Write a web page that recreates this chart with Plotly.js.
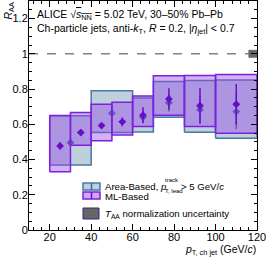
<!DOCTYPE html>
<html><head><meta charset="utf-8">
<script src="https://cdn.plot.ly/plotly-3.0.1.min.js"></script>
<style>html,body{margin:0;padding:0;background:#fff}#c{width:266px;height:259px}</style>
</head><body><div id="c"></div>
<script>
// Area-based (pT lead track > 5 GeV/c)
const areaLo   = [20, 40, 60, 70, 85, 100];
const areaHi   = [40, 60, 70, 85, 100, 120];
const areaX    = [30, 50, 65, 77.5, 92.5, 110];
const areaY    = [0.496, 0.663, 0.640, 0.723, 0.682, 0.672];
const areaStat = [0.02, 0.02, 0.035, 0.05, 0.08, 0.10];
const areaSysLo= [0.369, 0.553, 0.557, 0.640, 0.555, 0.521];
const areaSysHi= [0.648, 0.791, 0.750, 0.843, 0.848, 0.852];
// ML-based
const mlLo   = [20, 30, 40, 50, 60, 70, 85, 100];
const mlHi   = [30, 40, 50, 60, 70, 85, 100, 120];
const mlX    = [25, 35, 45, 55, 65, 77.5, 92.5, 110];
const mlY    = [0.477, 0.553, 0.593, 0.614, 0.652, 0.744, 0.706, 0.714];
const mlStat = [0.02, 0.02, 0.015, 0.025, 0.045, 0.06, 0.10, 0.115];
const mlSysLo= [0.331, 0.481, 0.506, 0.540, 0.587, 0.652, 0.587, 0.549];
const mlSysHi= [0.650, 0.667, 0.714, 0.725, 0.761, 0.875, 0.877, 0.883];
// TAA normalization uncertainty
const taaX = [116, 120];
const taaY = [0.979, 1.021];
// tick labels
const xTicks = [20, 40, 60, 80, 100, 120];
const yTicks = [0, 0.2, 0.4, 0.6, 0.8, 1, 1.2];
const yTickText = ['0', '0.2', '0.4', '0.6', '0.8', '1', '1.2'];

const FONT = 'Liberation Sans, Arial, sans-serif';
const BLUE_LINE = '#4a79a5', BLUE_FILL = '#bfcfdc', BLUE_MK = '#3a6a9a';
const PUR_LINE = '#7f1fe0', PUR_FILL = 'rgba(150,70,230,0.42)', PUR_MK = '#6a0dc8';

function boxTrace(x0, x1, y0, y1, line, fill, w) {
  return {type:'scatter', mode:'lines', x:[x0,x1,x1,x0,x0], y:[y0,y0,y1,y1,y0],
    fill:'toself', fillcolor:fill, line:{color:line, width:w}, hoverinfo:'skip', showlegend:false, cliponaxis:false};
}
const traces = [];
for (let i=0;i<areaX.length;i++) traces.push(boxTrace(areaLo[i], areaHi[i], areaSysLo[i], areaSysHi[i], BLUE_LINE, BLUE_FILL, 1.5));
traces.push({type:'scatter', mode:'markers', x:areaX, y:areaY, showlegend:false,
  marker:{symbol:'diamond', size:6, color:BLUE_MK},
  error_y:{type:'data', array:areaStat, color:BLUE_MK, thickness:1.5, width:0}});
for (let i=0;i<mlX.length;i++) traces.push(boxTrace(mlLo[i], mlHi[i], mlSysLo[i], mlSysHi[i], PUR_LINE, PUR_FILL, 1.5));
traces.push({type:'scatter', mode:'markers', x:mlX, y:mlY, showlegend:false,
  marker:{symbol:'diamond', size:6, color:PUR_MK},
  error_y:{type:'data', array:mlStat, color:PUR_MK, thickness:1.5, width:0}});
traces.push(boxTrace(taaX[0], taaX[1], taaY[0], taaY[1], '#666666', '#666666', 0.5));

function PX(px){return (px-29)/228;}
function PY(py){return (230-py)/229;}

const shapes = [
  {type:'line', xref:'paper', yref:'y', x0:0, x1:1, y0:1, y1:1, layer:'below',
   line:{color:'#444', width:1, dash:'dash'}},
  // legend icons
  {type:'rect', xref:'paper', yref:'paper', x0:PX(83), x1:PX(100), y0:PY(190), y1:PY(183),
   fillcolor:BLUE_FILL, line:{color:BLUE_LINE, width:1.5}},
  {type:'line', xref:'paper', yref:'paper', x0:PX(91.5), x1:PX(91.5), y0:PY(190), y1:PY(183), line:{color:BLUE_MK, width:1.5}},
  {type:'rect', xref:'paper', yref:'paper', x0:PX(83), x1:PX(100), y0:PY(199), y1:PY(192),
   fillcolor:'#cfa8f5', line:{color:PUR_LINE, width:1.5}},
  {type:'line', xref:'paper', yref:'paper', x0:PX(91.5), x1:PX(91.5), y0:PY(199), y1:PY(192), line:{color:PUR_MK, width:1.5}},
  {type:'rect', xref:'paper', yref:'paper', x0:PX(83), x1:PX(99), y0:PY(219), y1:PY(208),
   fillcolor:'#666666', line:{color:'#2a2a7a', width:1}},
];

const A = (px, py, text, size, xa, ya, extra) => Object.assign({xref:'paper', yref:'paper', x:PX(px), y:PY(py),
  text:text, showarrow:false, xanchor:xa||'left', yanchor:ya||'middle', borderpad:0,
  font:{family:FONT, size:size||10.5, color:'#000'}}, extra||{});

const annotations = [
  A(36, 15, "ALICE √<span style='text-decoration:overline'><i>s</i><sub>NN</sub></span> = 5.02 TeV, 30–50% Pb–Pb", 10.5),
  A(36, 29, "Ch-particle jets, anti-<i>k</i><sub>T</sub>, <i>R</i> = 0.2, |<i>η</i><sub>jet</sub>| &lt; 0.7", 10.5),
  A(103.5, 186, "Area-Based, <i>p</i>", 9.6),
  A(163.5, 180, "track", 6),
  A(163.5, 191, "T, lead", 6),
  A(180, 186, "&gt; 5 GeV/<i>c</i>", 9.6),
  A(103.5, 196, "ML-Based", 9.6),
  A(103.5, 213.5, "<i>T</i><sub>AA</sub> normalization uncertainty", 9.6),
  A(257, 250, "<i>p</i><sub>T, ch jet</sub> (GeV/<i>c</i>)", 10.5, 'right', 'middle'),
  A(8, 2, "<i>R</i><sub>AA</sub>", 10.5, 'center', 'top', {textangle:-90}),
];

const axisCommon = {showgrid:false, zeroline:false, showline:true, linecolor:'#000', linewidth:1,
  ticks:'inside', ticklen:6, tickcolor:'#000', tickwidth:1, mirror:'allticks', ticklabeloverflow:'allow',
  tickfont:{family:FONT, size:11, color:'#000'}};
const layout = {
  width:266, height:259, margin:{l:29, r:9, t:1, b:29}, paper_bgcolor:'#fff', plot_bgcolor:'#fff',
  showlegend:false,
  xaxis:Object.assign({}, axisCommon, {range:[10,120], tickmode:'array', tickvals:xTicks, ticktext:xTicks.map(String),
    ticklabelstandoff:-3,
    minor:{dtick:4, tick0:0, ticks:'inside', ticklen:3, tickcolor:'#000'}}),
  yaxis:Object.assign({}, axisCommon, {range:[0,1.3], tickmode:'array', tickvals:yTicks, ticktext:yTickText,
    ticklabelstandoff:-2,
    minor:{dtick:0.05, tick0:0, ticks:'inside', ticklen:3, tickcolor:'#000'}}),
  shapes:shapes, annotations:annotations
};
Plotly.newPlot('c', traces, layout, {staticPlot:true, displayModeBar:false});
</script></body></html>
